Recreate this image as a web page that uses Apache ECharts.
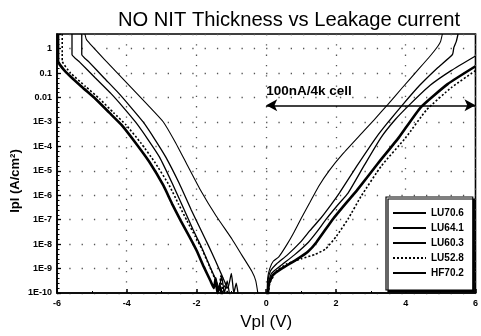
<!DOCTYPE html>
<html>
<head>
<meta charset="utf-8">
<script src="https://cdn.jsdelivr.net/npm/echarts@6/dist/echarts.min.js"></script>
<style>
  html, body { margin: 0; padding: 0; background: #fff; }
  #chart { width: 481px; height: 336px; }
</style>
</head>
<body>
<div id="chart"></div>
<script>
// ---- Data: [Vpl (V), log10(Ipl in A/cm^2)] ----
const seriesNames = ['LU70.6', 'LU64.1', 'LU60.3', 'LU52.8', 'HF70.2'];

const lu706Left = [[-5.29,0.6],[-5.29,-0.24],[-5.08,-0.55],[-4.65,-1.2],[-4.22,-1.84],[-3.88,-2.4],[-3.53,-3.0],[-3.2,-3.7],[-2.88,-4.44],[-2.5,-5.5],[-2.15,-6.6],[-1.88,-7.4],[-1.66,-8.05],[-1.45,-8.7],[-1.25,-9.35],[-1.1,-9.8],[-1.0,-9.2],[-0.93,-10],[-0.86,-9.6],[-0.8,-10.1]];
const lu706Right = [[0.03,-10.2],[0.05,-9.5],[0.12,-9.1],[0.3,-8.8],[0.6,-8.45],[0.98,-7.92],[1.25,-7.45],[1.55,-6.96],[1.85,-6.4],[2.1,-5.9],[2.6,-4.8],[3.15,-3.64],[3.5,-3.0],[3.92,-2.28],[4.4,-1.5],[4.9,-0.8],[5.34,-0.24],[5.38,0.05],[5.45,0.3],[5.5,0.6]];

const lu641Left = [[-5.97,0.6],[-5.97,-0.5],[-5.75,-0.95],[-5.3,-1.55],[-4.9,-2.05],[-4.5,-2.62],[-4.15,-3.12],[-3.75,-3.85],[-3.35,-4.64],[-2.95,-5.6],[-2.7,-6.35],[-2.45,-7.05],[-2.2,-7.7],[-2.0,-8.25],[-1.8,-8.9],[-1.6,-9.5],[-1.5,-9.8],[-1.45,-9.4],[-1.4,-10],[-1.33,-9.7],[-1.27,-10.1]];
const lu641Right = [[0.04,-10.2],[0.08,-9.6],[0.2,-9.25],[0.5,-8.95],[0.9,-8.6],[1.2,-8.3],[1.44,-7.92],[1.92,-6.96],[2.3,-6.3],[2.6,-5.8],[3.2,-4.7],[3.8,-3.64],[4.43,-2.4],[5.2,-1.45],[6.0,-0.72]];

const lu603Left = [[-5.57,0.6],[-5.57,-0.24],[-5.35,-0.55],[-4.9,-1.2],[-4.45,-1.84],[-4.1,-2.4],[-3.75,-3.0],[-3.4,-3.7],[-3.06,-4.44],[-2.7,-5.5],[-2.35,-6.6],[-2.1,-7.4],[-1.88,-8.05],[-1.68,-8.7],[-1.48,-9.35],[-1.35,-9.8],[-1.28,-9.3],[-1.2,-10],[-1.12,-9.5],[-1.05,-10.1]];
const lu603Right = [[0.03,-10.2],[0.06,-9.6],[0.15,-9.2],[0.4,-8.9],[0.8,-8.45],[1.21,-7.92],[1.45,-7.5],[1.73,-6.96],[2.05,-6.4],[2.35,-5.9],[2.8,-4.8],[3.29,-3.64],[3.7,-2.9],[4.12,-2.28],[4.7,-1.5],[5.3,-0.9],[6.0,-0.3]];

const lu528Left = [[-5.85,0.6],[-5.85,-0.5],[-5.62,-0.98],[-5.18,-1.55],[-4.78,-2.05],[-4.38,-2.62],[-4.02,-3.12],[-3.6,-3.85],[-3.2,-4.64],[-2.78,-5.6],[-2.52,-6.35],[-2.27,-7.05],[-2.03,-7.7],[-1.83,-8.25],[-1.63,-8.9],[-1.45,-9.5],[-1.36,-9.85],[-1.3,-9.3],[-1.24,-10],[-1.17,-9.6],[-1.1,-10.1]];
const lu528Right = [[0.05,-10.2],[0.1,-9.6],[0.3,-9.1],[0.6,-8.8],[1.0,-8.6],[1.4,-8.42],[1.7,-8.2],[2.0,-7.7],[2.35,-6.96],[2.72,-6.04],[3.3,-4.8],[4.0,-3.64],[4.6,-2.5],[5.3,-1.6],[6.0,-0.9]];

const hf702Left = [[-5.2,0.6],[-5.15,0.36],[-4.6,-0.5],[-4.0,-1.4],[-3.4,-2.3],[-2.95,-3.0],[-2.6,-3.85],[-2.27,-4.75],[-1.9,-5.75],[-1.44,-6.84],[-0.98,-7.8],[-0.7,-8.45],[-0.41,-9.12],[-0.3,-9.5],[-0.22,-10.2]];
const hf702Right = [[0.02,-10.2],[0.04,-9.4],[0.1,-9.0],[0.2,-8.7],[0.36,-8.52],[0.6,-8.0],[0.8,-7.5],[1.0,-6.95],[1.25,-6.3],[1.5,-5.64],[1.8,-5.0],[2.2,-4.3],[2.78,-3.4],[3.1,-2.9],[3.49,-2.28],[3.9,-1.6],[4.3,-0.95],[4.7,-0.3],[4.92,0.1],[5.0,0.3],[5.05,0.6]];

const xTicks = [-6, -4, -2, 0, 2, 4, 6];
const yTickExponents = [-10, -9, -8, -7, -6, -5, -4, -3, -2, -1, 0];
const yTickLabels = ['1E-10', '1E-9', '1E-8', '1E-7', '1E-6', '1E-5', '1E-4', '1E-3', '0.01', '0.1', '1'];

// 100nA/4k cell reference level (log10 A/cm^2) and span (V)
const refLevel = -2.32;
const refSpan = [0, 6];

// ---- Build ----
const branches = {
  'LU70.6': [lu706Left, lu706Right],
  'LU64.1': [lu641Left, lu641Right],
  'LU60.3': [lu603Left, lu603Right],
  'LU52.8': [lu528Left, lu528Right],
  'HF70.2': [hf702Left, hf702Right]
};
const styles = {
  'LU70.6': { width: 1.3, type: 'solid' },
  'LU64.1': { width: 2.6, type: 'solid' },
  'LU60.3': { width: 1.3, type: 'solid' },
  'LU52.8': { width: 1.6, type: [2, 2] },
  'HF70.2': { width: 1.1, type: 'solid' }
};

const FONT = '"Liberation Sans", Arial, sans-serif';

const series = seriesNames.map(function (name) {
  const b = branches[name];
  const s = {
    name: name,
    type: 'line',
    data: b[0].concat([[null, null]], b[1]),
    connectNulls: false,
    showSymbol: false,
    symbol: 'none',
    smooth: 0.15,
    animation: false,
    lineStyle: { color: '#000', width: styles[name].width, type: styles[name].type },
    itemStyle: { color: '#000' },
    z: 3
  };
  if (name === 'HF70.2') {
    s.markLine = {
      silent: true,
      animation: false,
      symbol: ['arrow', 'arrow'],
      symbolSize: [9, 11],
      lineStyle: { color: '#000', width: 1.6, type: 'solid' },
      label: {
        show: true,
        position: 'insideStartTop',
        distance: 7,
        offset: [-7, 0],
        formatter: '100nA/4k cell',
        color: '#000',
        fontFamily: FONT,
        fontWeight: 'bold',
        fontSize: 13.5
      },
      data: [[{ coord: [refSpan[0], refLevel] }, { coord: [refSpan[1], refLevel] }]]
    };
  }
  return s;
});

const chart = echarts.init(document.getElementById('chart'), null, { renderer: 'canvas' });
chart.setOption({
  backgroundColor: '#fff',
  animation: false,
  title: {
    text: 'NO NIT Thickness vs Leakage current',
    left: 284,
    top: 5,
    textAlign: 'center',
    textStyle: { fontFamily: FONT, fontSize: 20.2, fontWeight: 'normal', color: '#000' }
  },
  grid: {
    left: 57, right: 3, top: 34, bottom: 37,
    show: true, borderColor: '#000', borderWidth: 1.6, backgroundColor: 'transparent'
  },
  legend: {
    data: seriesNames,
    orient: 'vertical',
    left: 386,
    top: 197,
    padding: [11, 9, 12, 6],
    itemWidth: 33,
    itemHeight: 12,
    itemGap: 5,
    backgroundColor: '#fff',
    borderColor: '#000',
    borderWidth: 1.2,
    shadowColor: '#000',
    shadowBlur: 0,
    shadowOffsetX: 2,
    shadowOffsetY: 2,
    itemStyle: { opacity: 0 },
    textStyle: { fontFamily: FONT, fontWeight: 'bold', fontSize: 10, color: '#000' },
    selectedMode: false
  },
  xAxis: {
    type: 'value',
    min: xTicks[0],
    max: xTicks[xTicks.length - 1],
    interval: 2,
    name: 'Vpl (V)',
    nameLocation: 'middle',
    nameGap: 21,
    nameTextStyle: { fontFamily: FONT, fontSize: 17, color: '#000' },
    axisLine: { show: true, onZero: false, lineStyle: { color: '#000', width: 1.6 } },
    axisTick: { show: true, inside: true, length: 4, lineStyle: { color: '#000', width: 1.5 } },
    minorTick: { show: true, splitNumber: 2, length: 2, lineStyle: { color: '#000' } },
    axisLabel: { fontFamily: FONT, fontWeight: 'bold', fontSize: 9, color: '#000', margin: 6 },
    splitLine: { show: true, lineStyle: { color: '#555', width: 1.3, type: [1.3, 9] } }
  },
  yAxis: {
    type: 'value',
    min: yTickExponents[0],
    max: 0.6,
    interval: 1,
    axisLine: { show: true, onZero: false, lineStyle: { color: '#000', width: 1.6 } },
    axisTick: { show: true, inside: true, length: 4, lineStyle: { color: '#000', width: 1.3 } },
    minorTick: { show: true, splitNumber: 5, length: 2.5, lineStyle: { color: '#000' } },
    axisLabel: {
      fontFamily: FONT, fontWeight: 'bold', fontSize: 9, color: '#000', margin: 5,
      formatter: function (v) {
        const i = yTickExponents.indexOf(Math.round(v));
        return (Math.abs(v - Math.round(v)) < 1e-6 && i >= 0) ? yTickLabels[i] : '';
      }
    },
    splitLine: { show: true, lineStyle: { color: '#555', width: 1.3, type: [1.3, 11] } }
  },
  graphic: [{
    type: 'text',
    x: 15,
    y: 181,
    rotation: Math.PI / 2,
    style: {
      text: 'Ipl (A/cm²)',
      font: 'bold 13px ' + FONT,
      fill: '#000',
      textAlign: 'center',
      textVerticalAlign: 'middle'
    }
  }],
  series: series
});
</script>
</body>
</html>
